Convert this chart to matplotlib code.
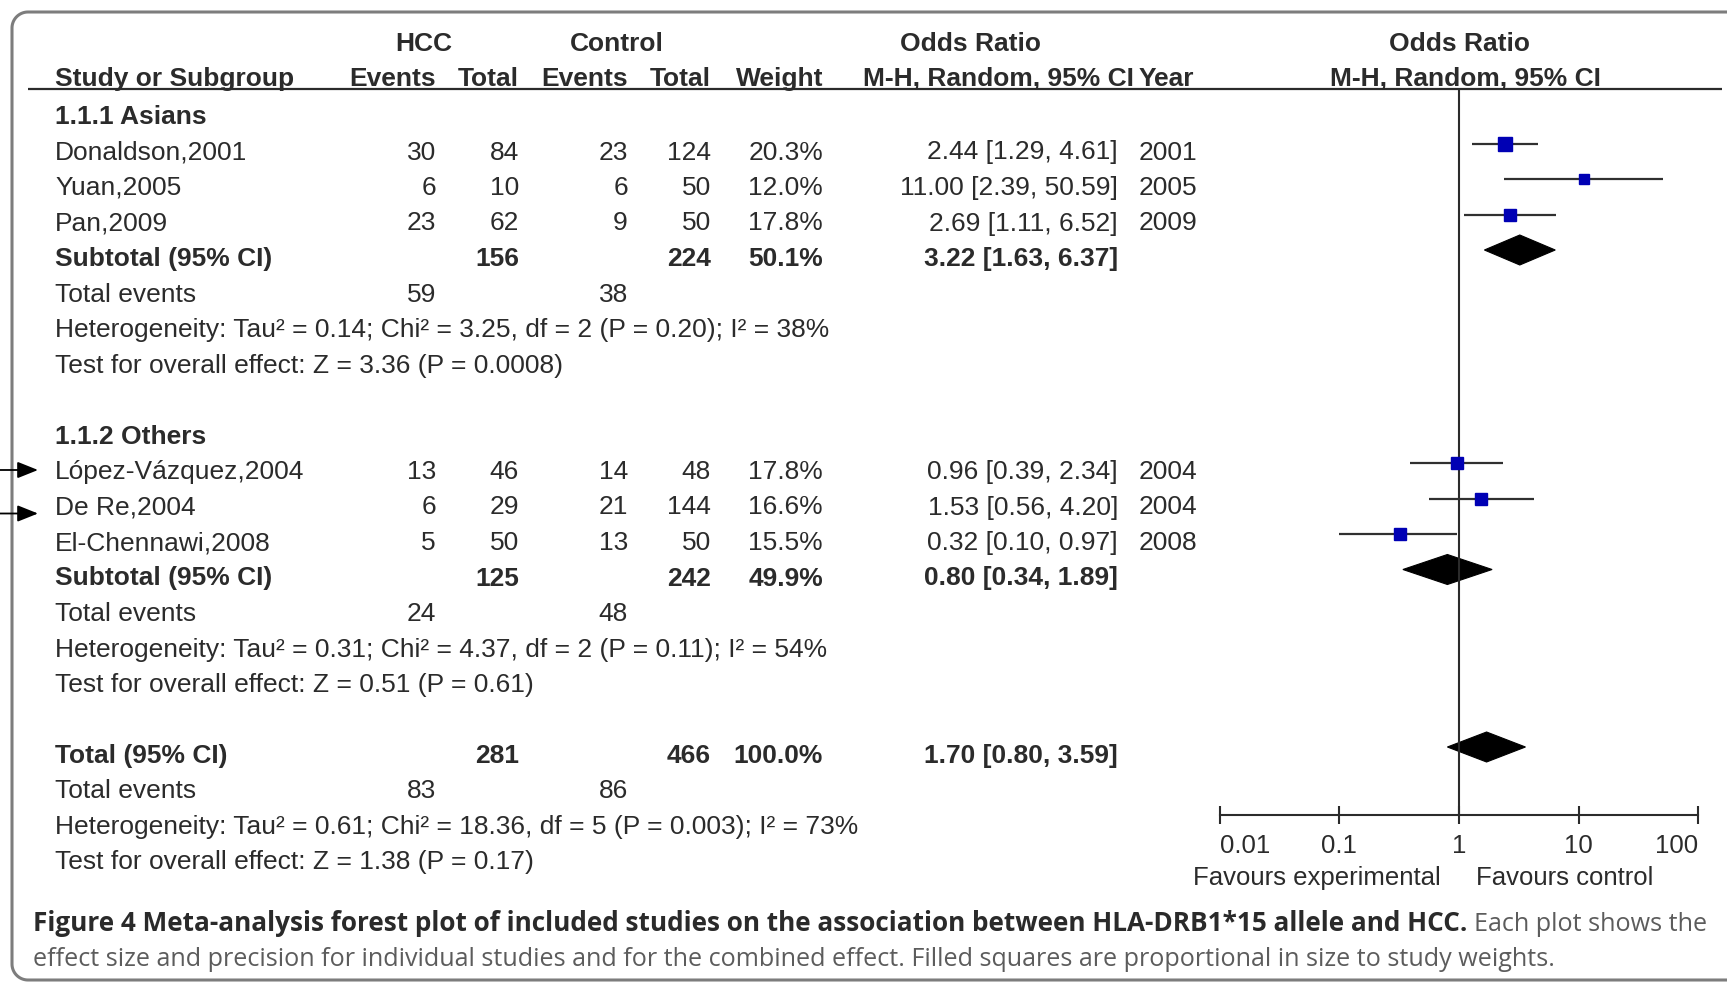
import matplotlib
matplotlib.use('Agg')
import matplotlib.pyplot as plt
from matplotlib import font_manager
from matplotlib.patches import Polygon
import numpy as np

# --- study data (HLA-DRB1*15 and HCC) ---
groups = ['1.1.1 Asians', '1.1.2 Others']
studies = ['Donaldson,2001', 'Yuan,2005', 'Pan,2009',
           'López-Vázquez,2004', 'De Re,2004', 'El-Chennawi,2008']
study_group = [0, 0, 0, 1, 1, 1]
hcc_events = [30, 6, 23, 13, 6, 5]
hcc_total = [84, 10, 62, 46, 29, 50]
ctrl_events = [23, 6, 9, 14, 21, 13]
ctrl_total = [124, 50, 50, 48, 144, 50]
weights = [20.3, 12.0, 17.8, 17.8, 16.6, 15.5]
or_est = [2.44, 11.00, 2.69, 0.96, 1.53, 0.32]
or_lo = [1.29, 2.39, 1.11, 0.39, 0.56, 0.10]
or_hi = [4.61, 50.59, 6.52, 2.34, 4.20, 0.97]
years = [2001, 2005, 2009, 2004, 2004, 2008]

# subgroup summaries
sub_hcc_total = [156, 125]
sub_ctrl_total = [224, 242]
sub_weight = [50.1, 49.9]
sub_or = [3.22, 0.80]
sub_lo = [1.63, 0.34]
sub_hi = [6.37, 1.89]
sub_hcc_events = [59, 24]
sub_ctrl_events = [38, 48]
sub_tau2 = ['0.14', '0.31']
sub_chi2 = ['3.25', '4.37']
sub_df = [2, 2]
sub_p_het = ['0.20', '0.11']
sub_i2 = [38, 54]
sub_z = ['3.36', '0.51']
sub_p_z = ['0.0008', '0.61']

# overall
tot_hcc_total, tot_ctrl_total, tot_weight = 281, 466, 100.0
tot_or, tot_lo, tot_hi = 1.70, 0.80, 3.59
tot_hcc_events, tot_ctrl_events = 83, 86
tot_tau2, tot_chi2, tot_df, tot_p_het, tot_i2 = '0.61', '18.36', 5, '0.003', 73
tot_z, tot_p_z = '1.38', '0.17'

axis_ticks = [0.01, 0.1, 1, 10, 100]
axis_labels = ['0.01', '0.1', '1', '10', '100']

caption_bold = ('Figure 4 Meta-analysis forest plot of included studies on the '
                'association between HLA-DRB1*15 allele and HCC.')
caption_rest1 = 'Each plot shows the'
caption_rest2 = ('effect size and precision for individual studies and for the '
                 'combined effect. Filled squares are proportional in size to study weights.')

# --- layout (pixels) ---
W, H = 1727, 985
FONT = 'Liberation Sans'
FS = 19
INK = '#2b2b2b'
X_NAME, X_HEV, X_HTOT, X_CEV, X_CTOT, X_WT, X_OR, X_YEAR = 55, 436, 519, 628, 711, 823, 1118, 1139
ONE_PX, DEC_PX = 1459, 119.7
FX_L, FX_R, FX_TOP, FX_BOT = 1200, 1720, 88, 815


def row_base(k):
    return 124 + 35.5 * k


def row_mark(k):
    return 108 + 35.5 * k


fig = plt.figure(figsize=(W / 100, H / 100), dpi=100)
fig.patch.set_facecolor('white')

ax = fig.add_axes([0, 0, 1, 1])
ax.set_xlim(0, W)
ax.set_ylim(H, 0)
ax.axis('off')


def put(x, y, s, ha='left', bold=False, **kw):
    ax.text(x, y, s, ha=ha, va='baseline', fontsize=kw.pop('fontsize', FS),
            family=FONT, fontweight='bold' if bold else 'normal',
            color=kw.pop('color', INK), **kw)


# outer frame: open on the right, rounded on the left
rad, fl, ft, fb = 16, 12, 12, 980
t1 = np.linspace(np.pi / 2, np.pi, 20)
t2 = np.linspace(np.pi, 1.5 * np.pi, 20)
frame_x = np.concatenate([[W + 5], fl + rad + rad * np.cos(t1), fl + rad + rad * np.cos(t2), [W + 5]])
frame_y = np.concatenate([[ft], ft + rad - rad * np.sin(t1), fb - rad - rad * np.sin(t2), [fb]])
ax.plot(frame_x, frame_y, color='#7d7d7d', lw=2.2, solid_capstyle='butt')

# column headers
put(424, 51, 'HCC', ha='center', bold=True)
put(617, 51, 'Control', ha='center', bold=True)
put(971, 51, 'Odds Ratio', ha='center', bold=True)
put(1460, 51, 'Odds Ratio', ha='center', bold=True)
put(X_NAME, 86, 'Study or Subgroup', bold=True)
put(X_HEV, 86, 'Events', ha='right', bold=True)
put(X_HTOT, 86, 'Total', ha='right', bold=True)
put(X_CEV, 86, 'Events', ha='right', bold=True)
put(X_CTOT, 86, 'Total', ha='right', bold=True)
put(X_WT, 86, 'Weight', ha='right', bold=True)
put(1134, 86, 'M-H, Random, 95% CI', ha='right', bold=True)
put(X_YEAR, 86, 'Year', bold=True)
put(1465, 86, 'M-H, Random, 95% CI', ha='center', bold=True)
ax.hlines(88.5, 28, 1722, color=INK, lw=1.6)

# forest panel on a log scale
fx = fig.add_axes([FX_L / W, (H - FX_BOT) / H, (FX_R - FX_L) / W, (FX_BOT - FX_TOP) / H])
fx.set_xscale('log')
fx.set_xlim(10 ** ((FX_L - ONE_PX) / DEC_PX), 10 ** ((FX_R - ONE_PX) / DEC_PX))
fx.set_ylim(FX_BOT, FX_TOP)
fx.patch.set_alpha(0)
for side in ['top', 'right', 'left']:
    fx.spines[side].set_visible(False)
fx.spines['bottom'].set_bounds(axis_ticks[0], axis_ticks[-1])
fx.spines['bottom'].set_color(INK)
fx.spines['bottom'].set_linewidth(1.5)
fx.set_xticks(axis_ticks)
fx.set_xticklabels(axis_labels, family=FONT, fontsize=18.5, color=INK)
labels = fx.get_xticklabels()
labels[0].set_ha('left')
labels[-1].set_ha('right')
fx.xaxis.set_minor_locator(matplotlib.ticker.NullLocator())
fx.set_yticks([])
fx.tick_params(axis='x', direction='inout', length=13, width=1.5, color=INK, pad=7)
fx.axvline(1, color=INK, lw=1.5)


def diamond(k, est, lo, hi):
    y = row_mark(k)
    fx.add_patch(Polygon([(lo, y), (est, y - 15), (hi, y), (est, y + 15)],
                         closed=True, fc='black', ec='black', lw=0.8))


def numbers(k, a, b, c, d, bold=False):
    y = row_base(k)
    for x, v in zip([X_HEV, X_HTOT, X_CEV, X_CTOT], [a, b, c, d]):
        if v != '':
            put(x, y, str(v), ha='right', bold=bold)


for g, gname in enumerate(groups):
    k0 = 9 * g
    put(X_NAME, row_base(k0), gname, bold=True)
    idx = [i for i in range(len(studies)) if study_group[i] == g]
    for j, i in enumerate(idx):
        k = k0 + 1 + j
        y = row_base(k)
        put(X_NAME, y, studies[i])
        numbers(k, hcc_events[i], hcc_total[i], ctrl_events[i], ctrl_total[i])
        put(X_WT, y, f'{weights[i]:.1f}%', ha='right')
        put(X_OR, y, f'{or_est[i]:.2f} [{or_lo[i]:.2f}, {or_hi[i]:.2f}]', ha='right')
        put(X_YEAR, y, str(years[i]))
        ym = row_mark(k)
        fx.hlines(ym, or_lo[i], or_hi[i], color='#303030', lw=1.6)
        fx.plot(or_est[i], ym, marker='s', ms=2.16 * np.sqrt(weights[i]),
                color='#0000b4', mec='#0000b4', zorder=3)
    k = k0 + 4
    put(X_NAME, row_base(k), 'Subtotal (95% CI)', bold=True)
    numbers(k, '', sub_hcc_total[g], '', sub_ctrl_total[g], bold=True)
    put(X_WT, row_base(k), f'{sub_weight[g]:.1f}%', ha='right', bold=True)
    put(X_OR, row_base(k), f'{sub_or[g]:.2f} [{sub_lo[g]:.2f}, {sub_hi[g]:.2f}]',
        ha='right', bold=True)
    diamond(k, sub_or[g], sub_lo[g], sub_hi[g])
    put(X_NAME, row_base(k0 + 5), 'Total events')
    numbers(k0 + 5, sub_hcc_events[g], '', sub_ctrl_events[g], '')
    put(X_NAME, row_base(k0 + 6),
        f'Heterogeneity: Tau² = {sub_tau2[g]}; Chi² = {sub_chi2[g]}, df = {sub_df[g]} '
        f'(P = {sub_p_het[g]}); I² = {sub_i2[g]}%')
    put(X_NAME, row_base(k0 + 7),
        f'Test for overall effect: Z = {sub_z[g]} (P = {sub_p_z[g]})')

# overall
k = 18
put(X_NAME, row_base(k), 'Total (95% CI)', bold=True)
numbers(k, '', tot_hcc_total, '', tot_ctrl_total, bold=True)
put(X_WT, row_base(k), f'{tot_weight:.1f}%', ha='right', bold=True)
put(X_OR, row_base(k), f'{tot_or:.2f} [{tot_lo:.2f}, {tot_hi:.2f}]', ha='right', bold=True)
diamond(k, tot_or, tot_lo, tot_hi)
put(X_NAME, row_base(19), 'Total events')
numbers(19, tot_hcc_events, '', tot_ctrl_events, '')
put(X_NAME, row_base(20),
    f'Heterogeneity: Tau² = {tot_tau2}; Chi² = {tot_chi2}, df = {tot_df} '
    f'(P = {tot_p_het}); I² = {tot_i2}%')
put(X_NAME, row_base(21), f'Test for overall effect: Z = {tot_z} (P = {tot_p_z})')

put(ONE_PX - 18, 885, 'Favours experimental', ha='right', fontsize=18.5)
put(ONE_PX + 17, 885, 'Favours control', ha='left', fontsize=18.5)

# arrows pointing at two of the studies
for k, dy in [(10, 1), (11, 9)]:
    y = row_mark(k) + dy + 6
    ax.annotate('', xy=(38, y), xytext=(0, y),
                arrowprops=dict(arrowstyle='-|>,head_length=0.7,head_width=0.28',
                                mutation_scale=18, color='black', lw=1.3,
                                shrinkA=0, shrinkB=0))

# caption, stretched to the frame width
names = {f.name for f in font_manager.fontManager.ttflist}
cap_font = 'Liberation Sans Narrow' if 'Liberation Sans Narrow' in names else 'Open Sans'
c1 = ax.text(33, 931, caption_bold, family=cap_font, fontweight='bold', fontsize=16,
             color='#2a2a2a', va='baseline')
c2 = ax.text(33, 966, caption_rest2, family=cap_font, fontsize=16,
             color='#5c5c5c', va='baseline')
fig.canvas.draw()
r = fig.canvas.get_renderer()
for t, width in [(c1, 1432), (c2, 1525)]:
    for _ in range(2):
        bb = t.get_window_extent(r)
        t.set_fontsize(t.get_fontsize() * width / bb.width)
bb = c1.get_window_extent(r)
c3 = ax.text(bb.x1 + 7, 931, caption_rest1, family=cap_font, fontsize=c2.get_fontsize(),
             color='#5c5c5c', va='baseline')

fig.savefig('out.png', dpi=100)
